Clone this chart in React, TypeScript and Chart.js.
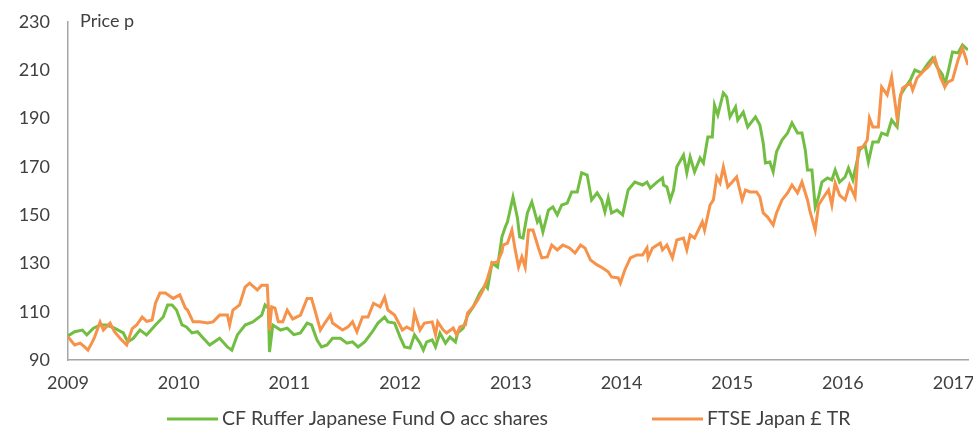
import React, { useEffect, useRef } from "react";
import { Chart, registerables } from "chart.js";

Chart.register(...registerables);

// ---- Data ----
const seriesNames = ["CF Ruffer Japanese Fund O acc shares", "FTSE Japan £ TR"];
const yTickValues = [90, 110, 130, 150, 170, 190, 210, 230];
const xTickYears = [2009, 2010, 2011, 2012, 2013, 2014, 2015, 2016, 2017];
const axisTitle = "Price p";

const ruffDates = [
  2009.00, 2009.06, 2009.13, 2009.17, 2009.23, 2009.29, 2009.35, 2009.42, 2009.50, 2009.54,
  2009.59, 2009.65, 2009.71, 2009.79, 2009.86, 2009.90, 2009.94, 2009.98, 2010.03, 2010.07,
  2010.12, 2010.17, 2010.21, 2010.28, 2010.37, 2010.44, 2010.48, 2010.53, 2010.60, 2010.67,
  2010.75, 2010.78, 2010.81, 2010.82, 2010.85, 2010.92, 2010.98, 2011.04, 2011.10, 2011.16,
  2011.20, 2011.25, 2011.29, 2011.34, 2011.39, 2011.46, 2011.52, 2011.57, 2011.62, 2011.68,
  2011.75, 2011.80, 2011.86, 2011.89, 2011.95, 2012.00, 2012.04, 2012.09, 2012.13, 2012.18,
  2012.21, 2012.24, 2012.29, 2012.32, 2012.36, 2012.41, 2012.45, 2012.50, 2012.52, 2012.57,
  2012.61, 2012.66, 2012.72, 2012.77, 2012.79, 2012.83, 2012.88, 2012.92, 2012.95, 2012.97,
  2013.02, 2013.06, 2013.08, 2013.11, 2013.15, 2013.19, 2013.24, 2013.26, 2013.29, 2013.34,
  2013.38, 2013.42, 2013.46, 2013.51, 2013.55, 2013.60, 2013.64, 2013.69, 2013.73, 2013.78,
  2013.82, 2013.85, 2013.88, 2013.91, 2013.96, 2014.01, 2014.06, 2014.12, 2014.19, 2014.23,
  2014.26, 2014.32, 2014.37, 2014.38, 2014.41, 2014.44, 2014.47, 2014.50, 2014.56, 2014.59,
  2014.62, 2014.66, 2014.71, 2014.74, 2014.78, 2014.82, 2014.84, 2014.87, 2014.92, 2014.95,
  2014.98, 2015.03, 2015.05, 2015.10, 2015.14, 2015.21, 2015.25, 2015.28, 2015.30, 2015.34,
  2015.37, 2015.40, 2015.45, 2015.50, 2015.54, 2015.59, 2015.63, 2015.66, 2015.68, 2015.72,
  2015.75, 2015.78, 2015.81, 2015.86, 2015.90, 2015.93, 2015.97, 2016.02, 2016.05, 2016.09,
  2016.15, 2016.20, 2016.23, 2016.27, 2016.32, 2016.35, 2016.40, 2016.44, 2016.49, 2016.52,
  2016.56, 2016.61, 2016.65, 2016.71, 2016.77, 2016.81, 2016.85, 2016.90, 2016.92, 2016.95,
  2016.99, 2017.04, 2017.08, 2017.13,
];
const ruffValues = [
  100, 101.7, 102.4, 100.4, 103.2, 104.5, 104.5, 103.2, 101.2, 97.5,
  99, 102.4, 100.4, 104.5, 107.8, 112.8, 112.8, 110.7, 104.5, 103.7,
  101.2, 101.7, 99.6, 96.2, 99, 95.4, 94.1, 100.4, 104.5, 105.8,
  108.6, 112.8, 111.5, 93.3, 104.5, 102.4, 103.2, 100.5, 101.2, 105.3,
  104.5, 98.3, 95.4, 96.2, 99, 99, 97, 97.5, 95.4, 97.5,
  101.7, 105.3, 107.8, 105.8, 105.3, 99.5, 95.4, 95, 100.4, 97,
  94.1, 97.5, 98.3, 95.4, 101.2, 97, 99.5, 97.5, 101.2, 103.2,
  108.6, 112, 117.7, 121, 119.8, 130.2, 128.5, 141, 145.1, 147.2,
  157.5, 148.8, 141, 140.5, 150.9, 155.5, 147.2, 148.8, 143, 152.1,
  153.4, 150.1, 154.2, 155, 159.6, 159.6, 167.5, 166.6, 156.3, 159.2,
  156.3, 151.3, 157.1, 150.9, 152.1, 150.1, 160.4, 163.7, 162.5, 163.7,
  161.2, 163.7, 165.4, 162.5, 161.7, 156.3, 160.4, 170, 174.9, 167.5,
  174.1, 167.9, 173.7, 171.6, 182.4, 182.4, 195.6, 191.5, 200.6, 199,
  190.7, 194.8, 189.4, 192.7, 186.5, 190.7, 187.3, 179.9, 171.6, 172,
  167.9, 176.2, 181.1, 184, 188.2, 184, 184, 177, 168.7, 168.7,
  153.4, 157.5, 163.7, 165.4, 164.6, 168.7, 163.7, 165.8, 169.5, 164.6,
  177, 179.1, 172, 180.3, 180.3, 184, 183.2, 189.4, 186.5, 199.8,
  202.7, 206, 210.1, 208.9, 213, 215.1, 211.4, 208.1, 203.9, 209.3,
  217.6, 217.2, 220.5, 218.4,
];

const ftseDates = [
  2009.00, 2009.06, 2009.11, 2009.15, 2009.18, 2009.22, 2009.24, 2009.29, 2009.32, 2009.38,
  2009.42, 2009.47, 2009.53, 2009.58, 2009.62, 2009.67, 2009.71, 2009.76, 2009.79, 2009.83,
  2009.88, 2009.95, 2010.01, 2010.06, 2010.08, 2010.13, 2010.19, 2010.26, 2010.31, 2010.37,
  2010.44, 2010.46, 2010.49, 2010.55, 2010.60, 2010.64, 2010.71, 2010.75, 2010.80, 2010.82,
  2010.84, 2010.87, 2010.90, 2010.94, 2010.98, 2011.03, 2011.10, 2011.16, 2011.20, 2011.23,
  2011.28, 2011.32, 2011.37, 2011.39, 2011.48, 2011.53, 2011.57, 2011.61, 2011.66, 2011.71,
  2011.76, 2011.82, 2011.86, 2011.89, 2011.95, 2012.02, 2012.06, 2012.11, 2012.13, 2012.18,
  2012.22, 2012.29, 2012.32, 2012.34, 2012.39, 2012.42, 2012.48, 2012.51, 2012.54, 2012.59,
  2012.61, 2012.66, 2012.70, 2012.75, 2012.79, 2012.83, 2012.88, 2012.92, 2012.93, 2012.97,
  2013.01, 2013.04, 2013.07, 2013.10, 2013.13, 2013.16, 2013.20, 2013.25, 2013.28, 2013.33,
  2013.37, 2013.42, 2013.47, 2013.53, 2013.58, 2013.63, 2013.67, 2013.72, 2013.78, 2013.83,
  2013.88, 2013.91, 2013.97, 2013.99, 2014.03, 2014.08, 2014.14, 2014.19, 2014.23, 2014.24,
  2014.28, 2014.35, 2014.37, 2014.41, 2014.46, 2014.50, 2014.56, 2014.59, 2014.62, 2014.66,
  2014.73, 2014.75, 2014.80, 2014.83, 2014.86, 2014.89, 2014.92, 2014.96, 2015.00, 2015.04,
  2015.09, 2015.12, 2015.16, 2015.22, 2015.25, 2015.28, 2015.32, 2015.37, 2015.40, 2015.45,
  2015.50, 2015.54, 2015.59, 2015.63, 2015.68, 2015.70, 2015.75, 2015.78, 2015.82, 2015.87,
  2015.90, 2015.93, 2015.97, 2016.02, 2016.06, 2016.11, 2016.14, 2016.18, 2016.22, 2016.24,
  2016.27, 2016.32, 2016.35, 2016.40, 2016.44, 2016.49, 2016.52, 2016.54, 2016.61, 2016.63,
  2016.67, 2016.72, 2016.77, 2016.83, 2016.88, 2016.92, 2016.95, 2016.99, 2017.04, 2017.08,
  2017.13,
];
const ftseValues = [
  99.6, 96.2, 97, 95.4, 94.1, 97.5, 99.5, 105.7, 102.4, 105.3,
  101.7, 99, 96.2, 103, 104.5, 107.8, 106, 106.6, 113.5, 117.7,
  117.7, 115.5, 117, 111.5, 110.7, 105.8, 105.8, 105.3, 105.8, 108.6,
  108.6, 104.5, 110.7, 112.8, 120.2, 121.8, 119, 121, 121, 102.4,
  112, 111.5, 105.8, 105.8, 110.7, 107, 108.6, 115.5, 115.5, 110.7,
  102.4, 105.3, 108.6, 105.3, 102.4, 103.7, 105.8, 101.7, 107.8, 107.8,
  113.5, 112, 116, 110.7, 108.6, 102.4, 103.7, 102.4, 109.5, 102.4,
  105.3, 105.8, 100.4, 105.8, 102.4, 101.2, 103.2, 100.4, 103.7, 104.5,
  109.5, 112, 114.8, 119, 123.9, 130.2, 130.6, 134.7, 137.6, 138.4,
  143.8, 135.6, 128.5, 132.7, 128.5, 143.8, 143.8, 136.4, 132.3, 132.7,
  137.6, 135.6, 137.6, 136.4, 134.3, 137.6, 136.4, 131.4, 129.4, 128.1,
  126.5, 124.4, 124, 121.9, 127.3, 132.3, 133.5, 133.5, 136.4, 132.3,
  136.4, 138.4, 135.6, 137.6, 132.3, 139.7, 140.5, 135.6, 141.8, 140.5,
  147.2, 143.8, 154.2, 156.3, 165.8, 163.3, 170, 161.7, 163.7, 165.8,
  156.3, 160.4, 159.6, 159.6, 157.5, 150.9, 149.2, 145.9, 150.9, 156.3,
  159.2, 162.5, 159.2, 163.7, 156.3, 152.1, 143.8, 154.2, 157.1, 160.4,
  154.2, 163.3, 158.3, 156.3, 162.5, 157.5, 177.8, 178.2, 181.1, 190.2,
  186.5, 186.5, 203.1, 199.8, 207.2, 190, 199, 202.7, 204.7, 201.8,
  206.8, 209.3, 211.4, 215.1, 207.2, 203.1, 205.2, 206, 214.3, 219.2,
  212.2,
];

const GREEN = "#72BE43";
const ORANGE = "#F7924A";
const TEXT = "#404040";
const AXIS = "#A6A6A6";
const FONT = "Lato, 'Open Sans', sans-serif";

const overlayPlugin = {
  id: "overlay",
  afterDraw(chart: any) {
    const ctx = chart.ctx;
    const area = chart.chartArea;
    ctx.save();
    ctx.fillStyle = TEXT;
    ctx.font = `18px ${FONT}`;
    ctx.textBaseline = "middle";
    ctx.textAlign = "left";
    ctx.fillText(axisTitle, area.left + 12, area.top - 1);

    // legend
    const y = 419;
    ctx.font = `19.5px ${FONT}`;
    const items = [
      { color: GREEN, label: seriesNames[0], x: 167 },
      { color: ORANGE, label: seriesNames[1], x: 652 },
    ];
    items.forEach((it) => {
      ctx.strokeStyle = it.color;
      ctx.lineWidth = 3;
      ctx.beginPath();
      ctx.moveTo(it.x, y);
      ctx.lineTo(it.x + 51, y);
      ctx.stroke();
      ctx.fillStyle = TEXT;
      ctx.fillText(it.label, it.x + 55, y);
    });
    ctx.restore();
  },
};

export default function App() {
  const ref = useRef<HTMLCanvasElement | null>(null);
  useEffect(() => {
    if (!ref.current) return;
    const toPts = (xs: number[], ys: number[]) => xs.map((x, i) => ({ x, y: ys[i] }));
    const chart = new Chart(ref.current, {
      type: "line",
      data: {
        datasets: [
          {
            label: seriesNames[0],
            data: toPts(ruffDates, ruffValues),
            borderColor: GREEN,
            borderWidth: 3,
            pointRadius: 0,
            tension: 0,
            order: 1,
          },
          {
            label: seriesNames[1],
            data: toPts(ftseDates, ftseValues),
            borderColor: ORANGE,
            borderWidth: 3,
            pointRadius: 0,
            tension: 0,
            order: 0,
          },
        ],
      },
      options: {
        responsive: false,
        animation: false,
        layout: { padding: { top: 22, right: 5, left: 0, bottom: 0 } },
        plugins: { legend: { display: false }, tooltip: { enabled: false } },
        scales: {
          x: {
            type: "linear",
            min: 2009,
            max: 2017.13,
            grid: { display: false, drawTicks: false },
            border: { color: AXIS, width: 1.5 },
            afterBuildTicks: (scale: any) => {
              scale.ticks = xTickYears.map((v) => ({ value: v }));
            },
            afterFit: (scale: any) => {
              scale.height = 69;
              scale.paddingLeft = 0;
              scale.paddingRight = 0;
            },
            ticks: {
              color: TEXT,
              font: { family: FONT, size: 18 },
              padding: 12,
              maxRotation: 0,
              autoSkip: false,
              callback: (v: any) => String(v),
            },
          },
          y: {
            min: 90,
            max: 230,
            grid: { display: false, drawTicks: false },
            border: { color: AXIS, width: 1.5 },
            afterBuildTicks: (scale: any) => {
              scale.ticks = yTickValues.map((v) => ({ value: v }));
            },
            afterFit: (scale: any) => {
              scale.width = 68;
              scale.paddingTop = 0;
              scale.paddingBottom = 0;
            },
            ticks: {
              color: TEXT,
              font: { family: FONT, size: 18 },
              padding: 18,
              callback: (v: any) => String(v),
            },
          },
        },
      },
      plugins: [overlayPlugin],
    });
    return () => chart.destroy();
  }, []);
  return (
    <div style={{ position: "absolute", left: 0, top: 0, width: 973, height: 429, background: "#fff" }}>
      <canvas ref={ref} width={973} height={429} />
    </div>
  );
}
